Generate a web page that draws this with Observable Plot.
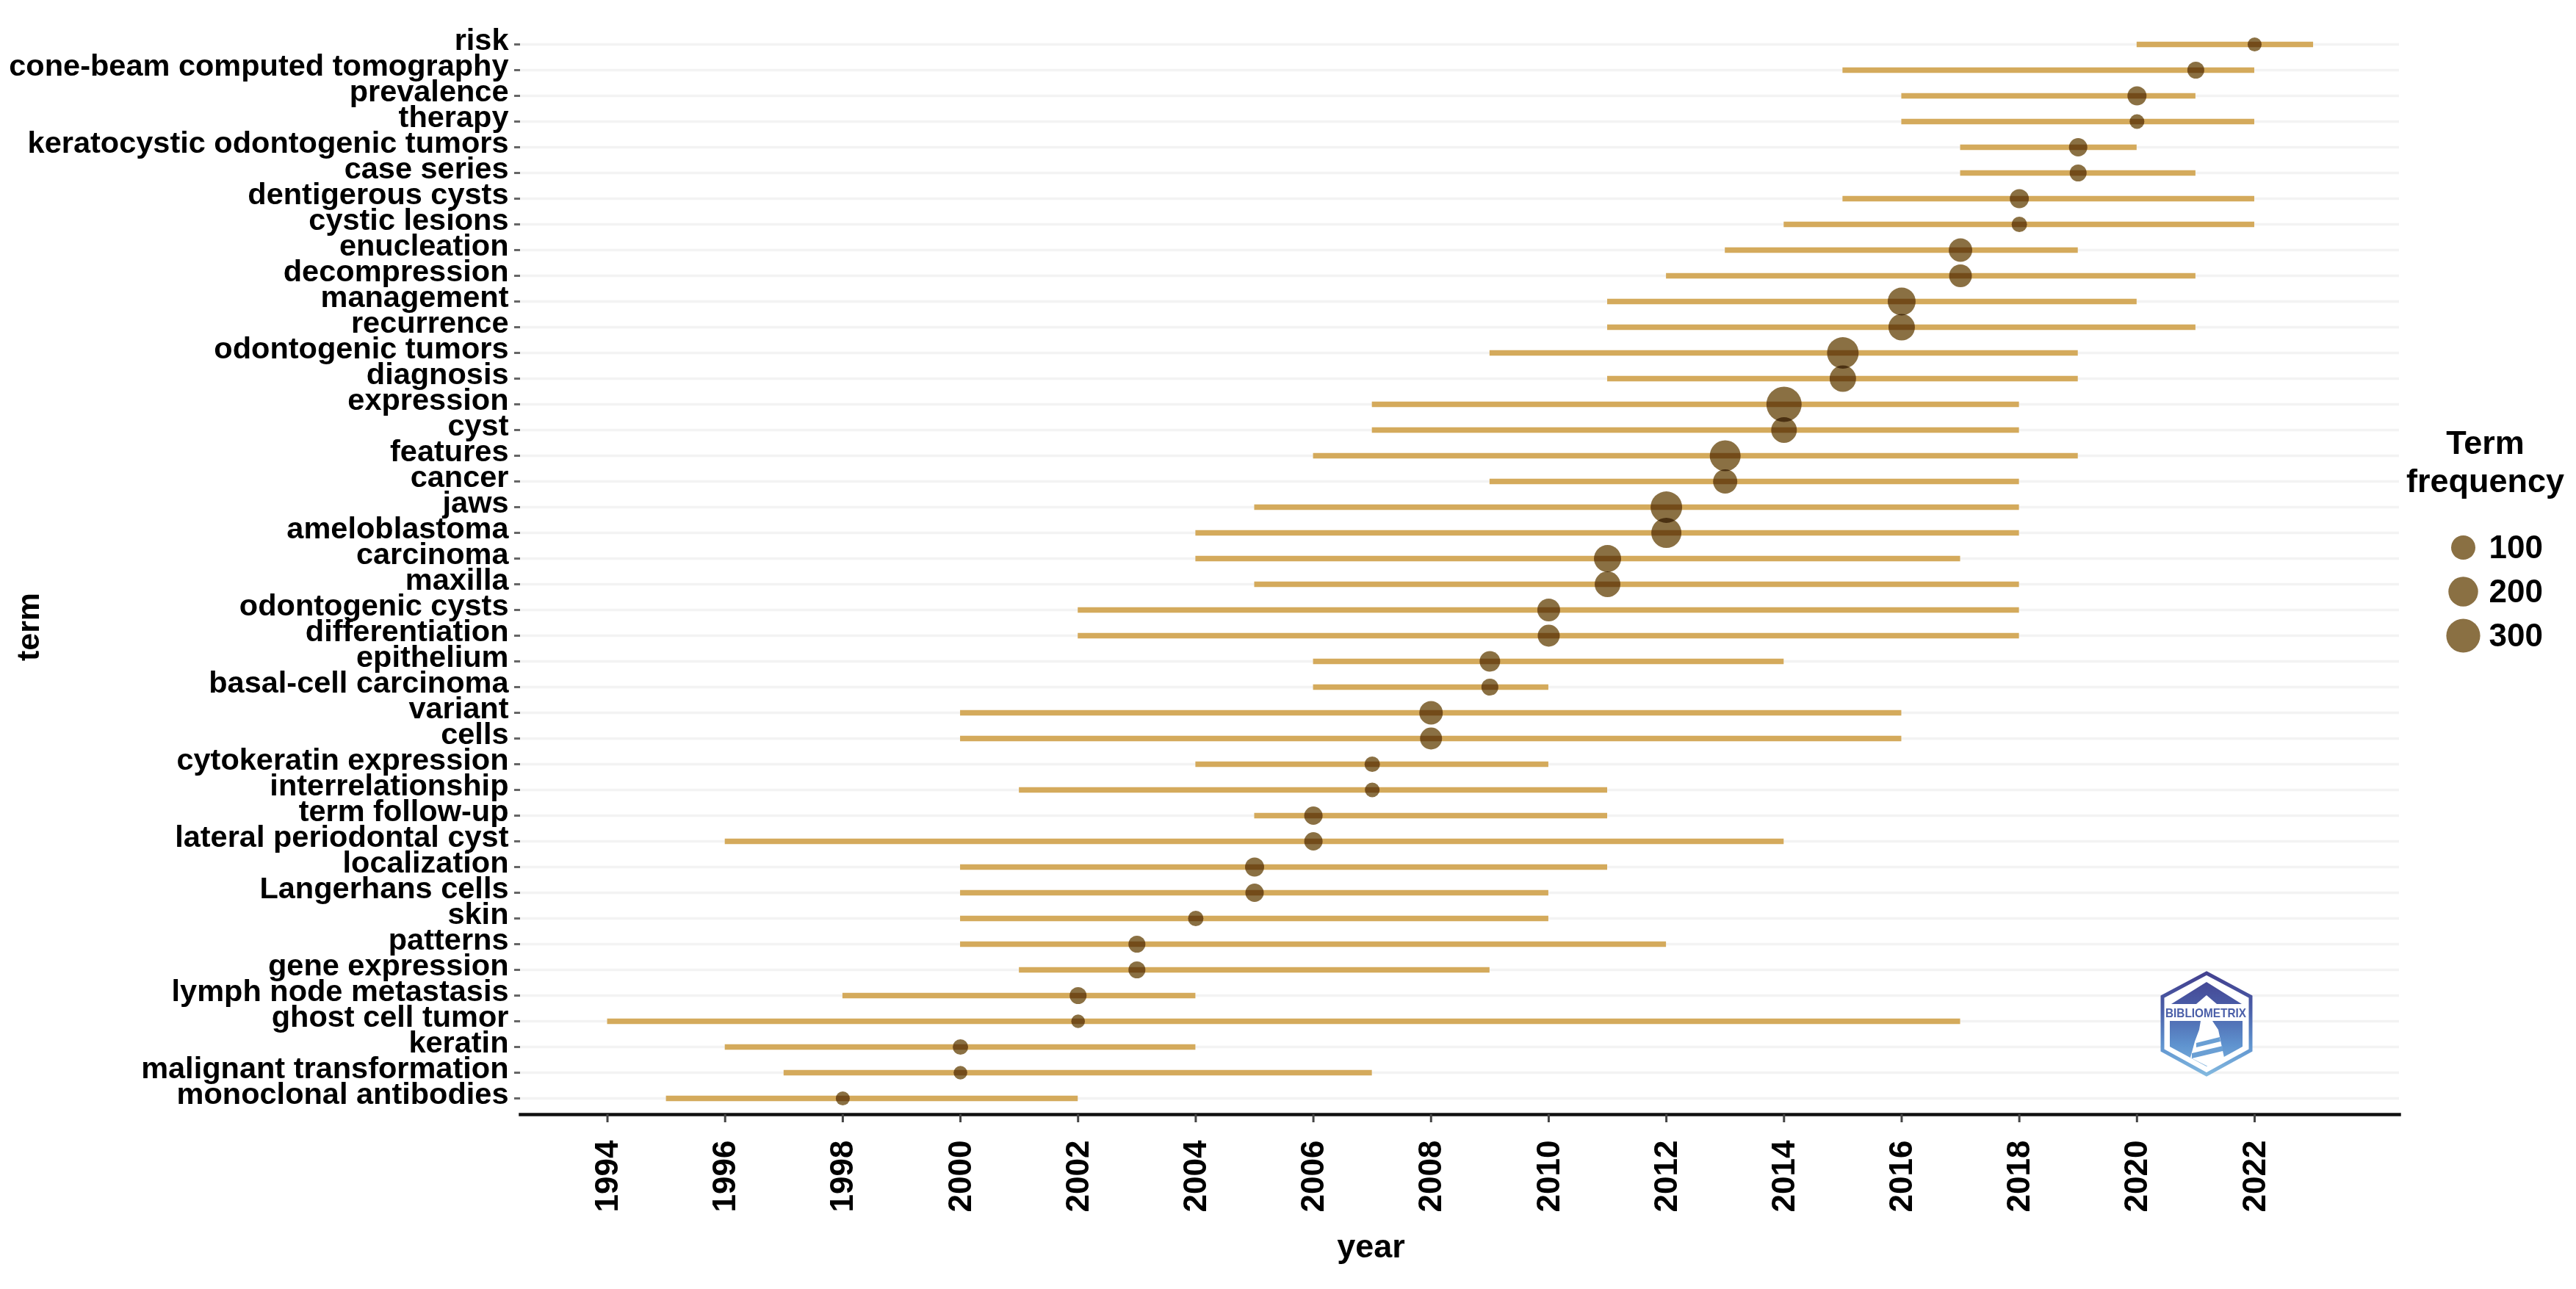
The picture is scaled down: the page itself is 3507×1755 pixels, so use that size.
<!DOCTYPE html>
<html>
<head>
<meta charset="utf-8">
<script src="https://cdn.jsdelivr.net/npm/d3@7"></script>
<script src="https://cdn.jsdelivr.net/npm/@observablehq/plot@0.6"></script>
<style>
html,body{margin:0;padding:0;background:#fff;}
#wrap{position:relative;width:3507px;height:1755px;overflow:hidden;font-family:"Liberation Sans",Arial,sans-serif;}
#wrap svg{position:absolute;}
</style>
</head>
<body>
<div id="wrap"></div>
<script>
const terms = ["risk","cone-beam computed tomography","prevalence","therapy","keratocystic odontogenic tumors","case series","dentigerous cysts","cystic lesions","enucleation","decompression","management","recurrence","odontogenic tumors","diagnosis","expression","cyst","features","cancer","jaws","ameloblastoma","carcinoma","maxilla","odontogenic cysts","differentiation","epithelium","basal-cell carcinoma","variant","cells","cytokeratin expression","interrelationship","term follow-up","lateral periodontal cyst","localization","Langerhans cells","skin","patterns","gene expression","lymph node metastasis","ghost cell tumor","keratin","malignant transformation","monoclonal antibodies"];
const yearStart = [2020,2015,2016,2016,2017,2017,2015,2014,2013,2012,2011,2011,2009,2011,2007,2007,2006,2009,2005,2004,2004,2005,2002,2002,2006,2006,2000,2000,2004,2001,2005,1996,2000,2000,2000,2000,2001,1998,1994,1996,1997,1995];
const yearMedian = [2022,2021,2020,2020,2019,2019,2018,2018,2017,2017,2016,2016,2015,2015,2014,2014,2013,2013,2012,2012,2011,2011,2010,2010,2009,2009,2008,2008,2007,2007,2006,2006,2005,2005,2004,2003,2003,2002,2002,2000,2000,1998];
const yearEnd = [2023,2022,2021,2022,2020,2021,2022,2022,2019,2021,2020,2021,2019,2019,2018,2018,2019,2018,2018,2018,2017,2018,2018,2018,2014,2010,2016,2016,2010,2011,2011,2014,2011,2010,2010,2012,2009,2004,2017,2004,2007,2002];
const frequency = [5,20,37,8,31,20,37,11,89,79,163,136,242,136,336,123,225,100,242,209,149,123,79,69,52,20,89,69,11,8,31,31,37,31,11,20,20,20,4,11,4,5];
const xTicks = [1994,1996,1998,2000,2002,2004,2006,2008,2010,2012,2014,2016,2018,2020,2022];
const legendValues = [100,200,300];

const rows = terms.map((term,i)=>({term,start:yearStart[i],median:yearMedian[i],end:yearEnd[i],freq:frequency[i]}));
const font = '"Liberation Sans",Arial,sans-serif';
const rScale = {type:"pow",exponent:0.5,domain:[0,400],range:[7.5,25.5]};
const dotFill = "#8a7043", lineColor = "#d4aa5c";
const mL = 708, mT = 30;

const chart = Plot.plot({
  width:3507,height:1755,
  marginLeft:mL,marginRight:241,marginTop:mT,marginBottom:238,
  style:{fontFamily:font,background:"#fff"},
  x:{domain:[1992.52,2024.46]},
  y:{type:"point",domain:terms,range:[59,1495],padding:0},
  r:rScale,
  marks:[
    Plot.ruleY(terms,{y:d=>d,stroke:"#f3f3f3",strokeWidth:3.5}),
    Plot.ruleY(rows,{y:"term",x1:"start",x2:"end",stroke:lineColor,strokeWidth:7.5}),
    Plot.dot(rows,{x:"median",y:"term",r:"freq",fill:dotFill,stroke:"none",mixBlendMode:"multiply"}),
    Plot.frame({anchor:"bottom",stroke:"#111",strokeWidth:4.5}),
    Plot.axisX({ticks:xTicks,tickFormat:"d",tickSize:11,tickPadding:24,tickRotate:-90,fontSize:44,fontWeight:"bold",stroke:"#444",strokeWidth:3,color:"#000",label:null}),
    Plot.axisY({tickSize:8,tickFormat:()=>"",stroke:"#666",strokeWidth:3,label:null}),
    Plot.axisY({tickSize:0,tickPadding:16,dy:-6,fontSize:41.5,fontWeight:"bold",color:"#000",label:null}),
    Plot.text(["year"],{frameAnchor:"top-left",dx:1866-mL,dy:1697-mT,text:d=>d,fontSize:45,fontWeight:"bold",fill:"#000",textAnchor:"middle",lineAnchor:"middle"}),
    Plot.text(["term"],{frameAnchor:"top-left",dx:39-mL,dy:853-mT,text:d=>d,fontSize:43,fontWeight:"bold",fill:"#000",rotate:-90,textAnchor:"middle",lineAnchor:"middle"})
  ]
});
const wrap = document.getElementById("wrap");
chart.style.left="0";chart.style.top="0";
wrap.appendChild(chart);

const legend = Plot.plot({
  width:300,height:340,margin:0,
  style:{fontFamily:font,background:"transparent",overflow:"visible"},
  x:{domain:[0,1],range:[53,88],axis:null},
  y:{type:"point",domain:legendValues,range:[205,325],padding:0,axis:null},
  r:rScale,
  marks:[
    Plot.text(["Term\nfrequency"],{frameAnchor:"top",dx:-67,dy:87,text:d=>d,fontSize:45,fontWeight:"bold",fill:"#000",lineHeight:1.16,textAnchor:"middle",lineAnchor:"middle"}),
    Plot.dot(legendValues,{x:()=>0,y:d=>d,r:d=>d,fill:dotFill}),
    Plot.text(legendValues,{x:()=>1,y:d=>d,text:d=>String(d),fontSize:44,fontWeight:"bold",fill:"#000",textAnchor:"start"})
  ]
});
legend.style.left="3300px";legend.style.top="540px";
wrap.appendChild(legend);

const logo = `<svg style="left:2936px;top:1318px" width="136" height="154" viewBox="0 0 136 154" xmlns="http://www.w3.org/2000/svg">
<defs><linearGradient id="lg" gradientUnits="userSpaceOnUse" x1="0" y1="5" x2="0" y2="148"><stop offset="0" stop-color="#43408f"/><stop offset=".35" stop-color="#4a5ea8"/><stop offset=".7" stop-color="#5f93cf"/><stop offset="1" stop-color="#85bbe0"/></linearGradient></defs>
<polygon points="68,7 128,39 128,112 68,145 8,112 8,39" fill="#fff" stroke="url(#lg)" stroke-width="5"/>
<polygon points="68,19 116,49 20,49" fill="url(#lg)"/>
<polygon points="68,37 82,49 54,49" fill="#fff"/>
<polygon points="18,72 117,72 117,107 68,134 18,107" fill="url(#lg)"/>
<polygon points="60,72 76,72 84,84 92,122 70,134 46,122 52,100 58,84" fill="#fff"/>
<g fill="#6a9fd4"><polygon points="54,102 86,94 87,100 54,108"/><polygon points="48,116 90,106 90,113 48,123"/></g>
<text x="67" y="67" text-anchor="middle" font-family="Liberation Sans,sans-serif" font-weight="bold" font-size="17" textLength="110" lengthAdjust="spacingAndGlyphs" fill="#4a5ea8">BIBLIOMETRIX</text>
</svg>`;
wrap.insertAdjacentHTML("beforeend",logo);
</script>
</body>
</html>
